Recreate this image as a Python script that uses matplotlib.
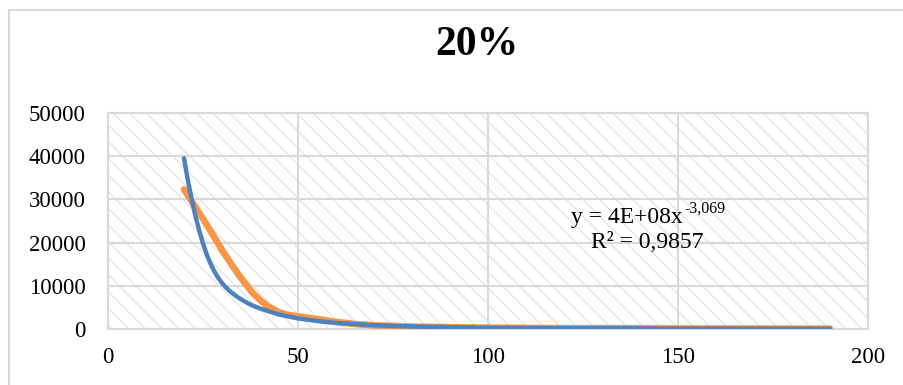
import matplotlib
matplotlib.use("Agg")
import matplotlib.pyplot as plt
from matplotlib.patches import Rectangle

# Data
x_data = [20, 22, 25, 28, 30, 33, 35, 38, 40, 42, 45, 47, 50, 55, 60, 65, 70,
          80, 90, 100, 110, 120, 130, 140, 150, 160, 170, 180, 190]
y_data = [32300, 29600, 25500, 21200, 18300, 14300, 11800, 8400, 6700, 5300,
          3900, 3350, 2900, 2300, 1650, 1150, 850, 550, 400, 300, 250, 200,
          170, 150, 120, 100, 90, 80, 70]

x_trend = [20, 21, 22, 23, 24, 25, 26, 27, 28, 29, 30, 31, 32, 33, 34, 36,
           38, 40, 45, 50, 55, 60, 70, 80, 100, 120, 150, 190]
y_trend = [39500, 34500, 30100, 26200, 22800, 19800, 17200, 15100, 13300,
           11850, 10650, 9650, 8800, 8100, 7450, 6350, 5450, 4750, 3350,
           2450, 1850, 1400, 870, 580, 290, 170, 85, 42]

x_ticks = [0, 50, 100, 150, 200]
y_ticks = [0, 10000, 20000, 30000, 40000, 50000]
title = "20%"
eq_main = "y = 4E+08x"
eq_sup = "-3,069"
eq_r2 = "R² = 0,9857"

plt.rcParams['font.family'] = ['Liberation Serif', 'DejaVu Serif']
plt.rcParams['hatch.linewidth'] = 1.0

W, H = 904, 385
fig = plt.figure(figsize=(W/100, H/100), dpi=100)
ax = fig.add_axes([108/W, 1-329/H, (868-108)/W, (329-113)/H])

grid_c = '#d9d9d9'
ax.add_patch(Rectangle((0, 0), 1, 1, transform=ax.transAxes, fill=False,
                       hatch='\\\\', edgecolor='#e6e6e6', lw=0, zorder=0))

ax.plot(x_data, y_data, color='#f79646', lw=4.8, solid_capstyle='round',
        solid_joinstyle='round', zorder=3)
ax.plot(x_trend, y_trend, color='#4f81bd', lw=3.2, solid_capstyle='round',
        solid_joinstyle='round', zorder=4)

ax.set_xlim(0, 200)
ax.set_ylim(0, 50000)
ax.set_xticks(x_ticks)
ax.set_yticks(y_ticks)
ax.tick_params(length=0, labelsize=16.5, colors='black')
ax.tick_params(axis='x', pad=13)
ax.tick_params(axis='y', pad=16)
ax.grid(True, color=grid_c, lw=1.5, zorder=1)
ax.set_axisbelow(True)
for s in ax.spines.values():
    s.set_color(grid_c)
    s.set_linewidth(1.5)

fig.text(477/W, 1-45/H, title, ha='center', va='center', fontsize=30,
         fontweight='bold')
fig.text(683/W, 1-223/H, eq_main, ha='right', va='baseline', fontsize=17,
         zorder=5)
fig.text(684/W, 1-213/H, eq_sup, ha='left', va='baseline', fontsize=11.5,
         zorder=5)
fig.text(647.5/W, 1-248/H, eq_r2, ha='center', va='baseline', fontsize=17,
         zorder=5)

fig.patches.append(Rectangle((9/W, -0.1), 1.2, 1-10/H + 0.1,
                             transform=fig.transFigure, fill=False,
                             edgecolor='#d9d9d9', lw=1.5))

fig.savefig("out.png", dpi=100)
